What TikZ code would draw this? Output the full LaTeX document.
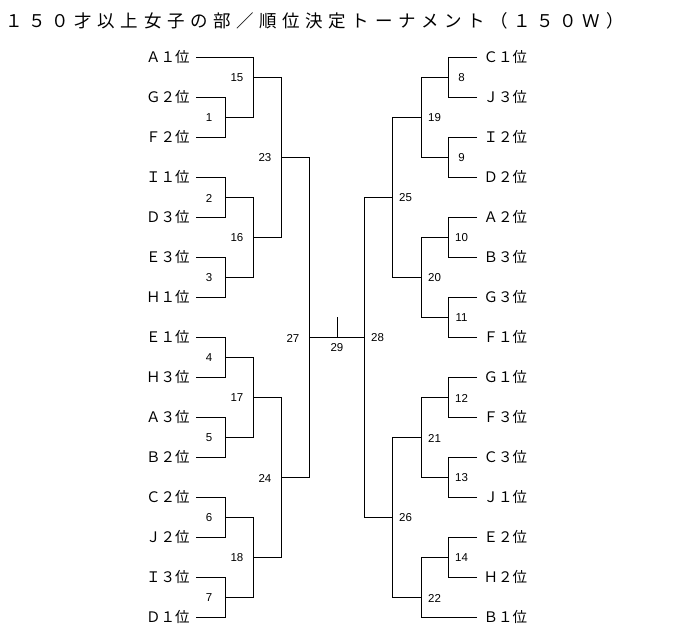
\documentclass[tikz,border=0pt]{standalone}
\usepackage{fontspec}
\newfontfamily\jpfont{Noto Sans CJK JP}
\newfontfamily\titlefont[LetterSpace=32]{Noto Sans CJK JP}
\newfontfamily\numfont{Liberation Sans}
\usetikzlibrary{positioning}

\begin{document}
\begin{tikzpicture}[
    x=1pt, y=-1pt,
    line width=1pt,
    team/.style={inner xsep=6pt, inner ysep=0pt,
                 font=\jpfont\fontsize{14.5}{14.5}\selectfont},
    lteam/.style={team, anchor=east},
    rteam/.style={team, anchor=west},
    num/.style={inner sep=0pt, font=\numfont\fontsize{11.5}{11.5}\selectfont},
    lnum/.style={num, xshift=-16pt, yshift=-1pt},
    rnum/.style={num, xshift=13.5pt, yshift=-1pt},
    ttlbox/.style={anchor=west, inner sep=0pt,
                   font=\titlefont\fontsize{17.5}{17.5}\selectfont},
  ]
    \useasboundingbox (0,0) rectangle (673,638);
    \node[ttlbox] (ttl) at (5,21) {１５０才以上女子の部／順位決定トーナメント（１５０Ｗ）};

    \foreach \t [count=\i] in {Ａ１位, Ｇ２位, Ｆ２位, Ｉ１位, Ｄ３位, Ｅ３位, Ｈ１位, Ｅ１位,
                               Ｈ３位, Ａ３位, Ｂ２位, Ｃ２位, Ｊ２位, Ｉ３位, Ｄ１位}
      \node[lteam] (L\i) at (196,17+40*\i) {\t};
    \foreach \t [count=\i] in {Ｃ１位, Ｊ３位, Ｉ２位, Ｄ２位, Ａ２位, Ｂ３位, Ｇ３位, Ｆ１位,
                               Ｇ１位, Ｆ３位, Ｃ３位, Ｊ１位, Ｅ２位, Ｈ２位, Ｂ１位}
      \node[rteam] (R\i) at (477,17+40*\i) {\t};

    % left half
    \foreach \m/\y in {1/117, 2/197, 3/277, 4/357, 5/437, 6/517, 7/597}
      \coordinate (m\m) at (225,\y);
    \foreach \m/\y in {15/77, 16/237, 17/397, 18/557}
      \coordinate (m\m) at (253,\y);
    \coordinate (m23) at (281,157);
    \coordinate (m24) at (281,477);
    \coordinate (m27) at (309,337);

    % right half
    \foreach \m/\y in {8/77, 9/157, 10/237, 11/317, 12/397, 13/477, 14/557}
      \coordinate (m\m) at (448,\y);
    \foreach \m/\y in {19/117, 20/277, 21/437, 22/597}
      \coordinate (m\m) at (421,\y);
    \coordinate (m25) at (392,197);
    \coordinate (m26) at (392,517);
    \coordinate (m28) at (364,337);

    \coordinate (m29) at (337,337);
    \coordinate (m29t) at (337,317);

    \foreach \m in {1,2,3,4,5,6,7,15,16,17,18,23,24,27}
      \node[lnum] (n\m) at (m\m) {\m};
    \foreach \m in {8,9,10,11,12,13,14,19,20,21,22,25,26,28}
      \node[rnum] (n\m) at (m\m) {\m};
    \node[num] (n29) at (337,348) {29};

    \foreach \a/\b/\m in {2/3/1, 4/5/2, 6/7/3, 8/9/4, 10/11/5, 12/13/6, 14/15/7}
      \draw (L\a.east) -| (m\m) (L\b.east) -| (m\m);
    \draw (L1.east) -| (m15) (m1) -| (m15);
    \foreach \a/\b/\m in {2/3/16, 4/5/17, 6/7/18, 15/16/23, 17/18/24, 23/24/27}
      \draw (m\a) -| (m\m) (m\b) -| (m\m);

    \foreach \a/\b/\m in {1/2/8, 3/4/9, 5/6/10, 7/8/11, 9/10/12, 11/12/13, 13/14/14}
      \draw (R\a.west) -| (m\m) (R\b.west) -| (m\m);
    \draw (m14) -| (m22) (R15.west) -| (m22);
    \foreach \a/\b/\m in {8/9/19, 10/11/20, 12/13/21, 19/20/25, 21/22/26, 25/26/28}
      \draw (m\a) -| (m\m) (m\b) -| (m\m);

    \draw (m27) -- (m28);
    \draw (m29) -- (m29t);
\end{tikzpicture}
\end{document}
